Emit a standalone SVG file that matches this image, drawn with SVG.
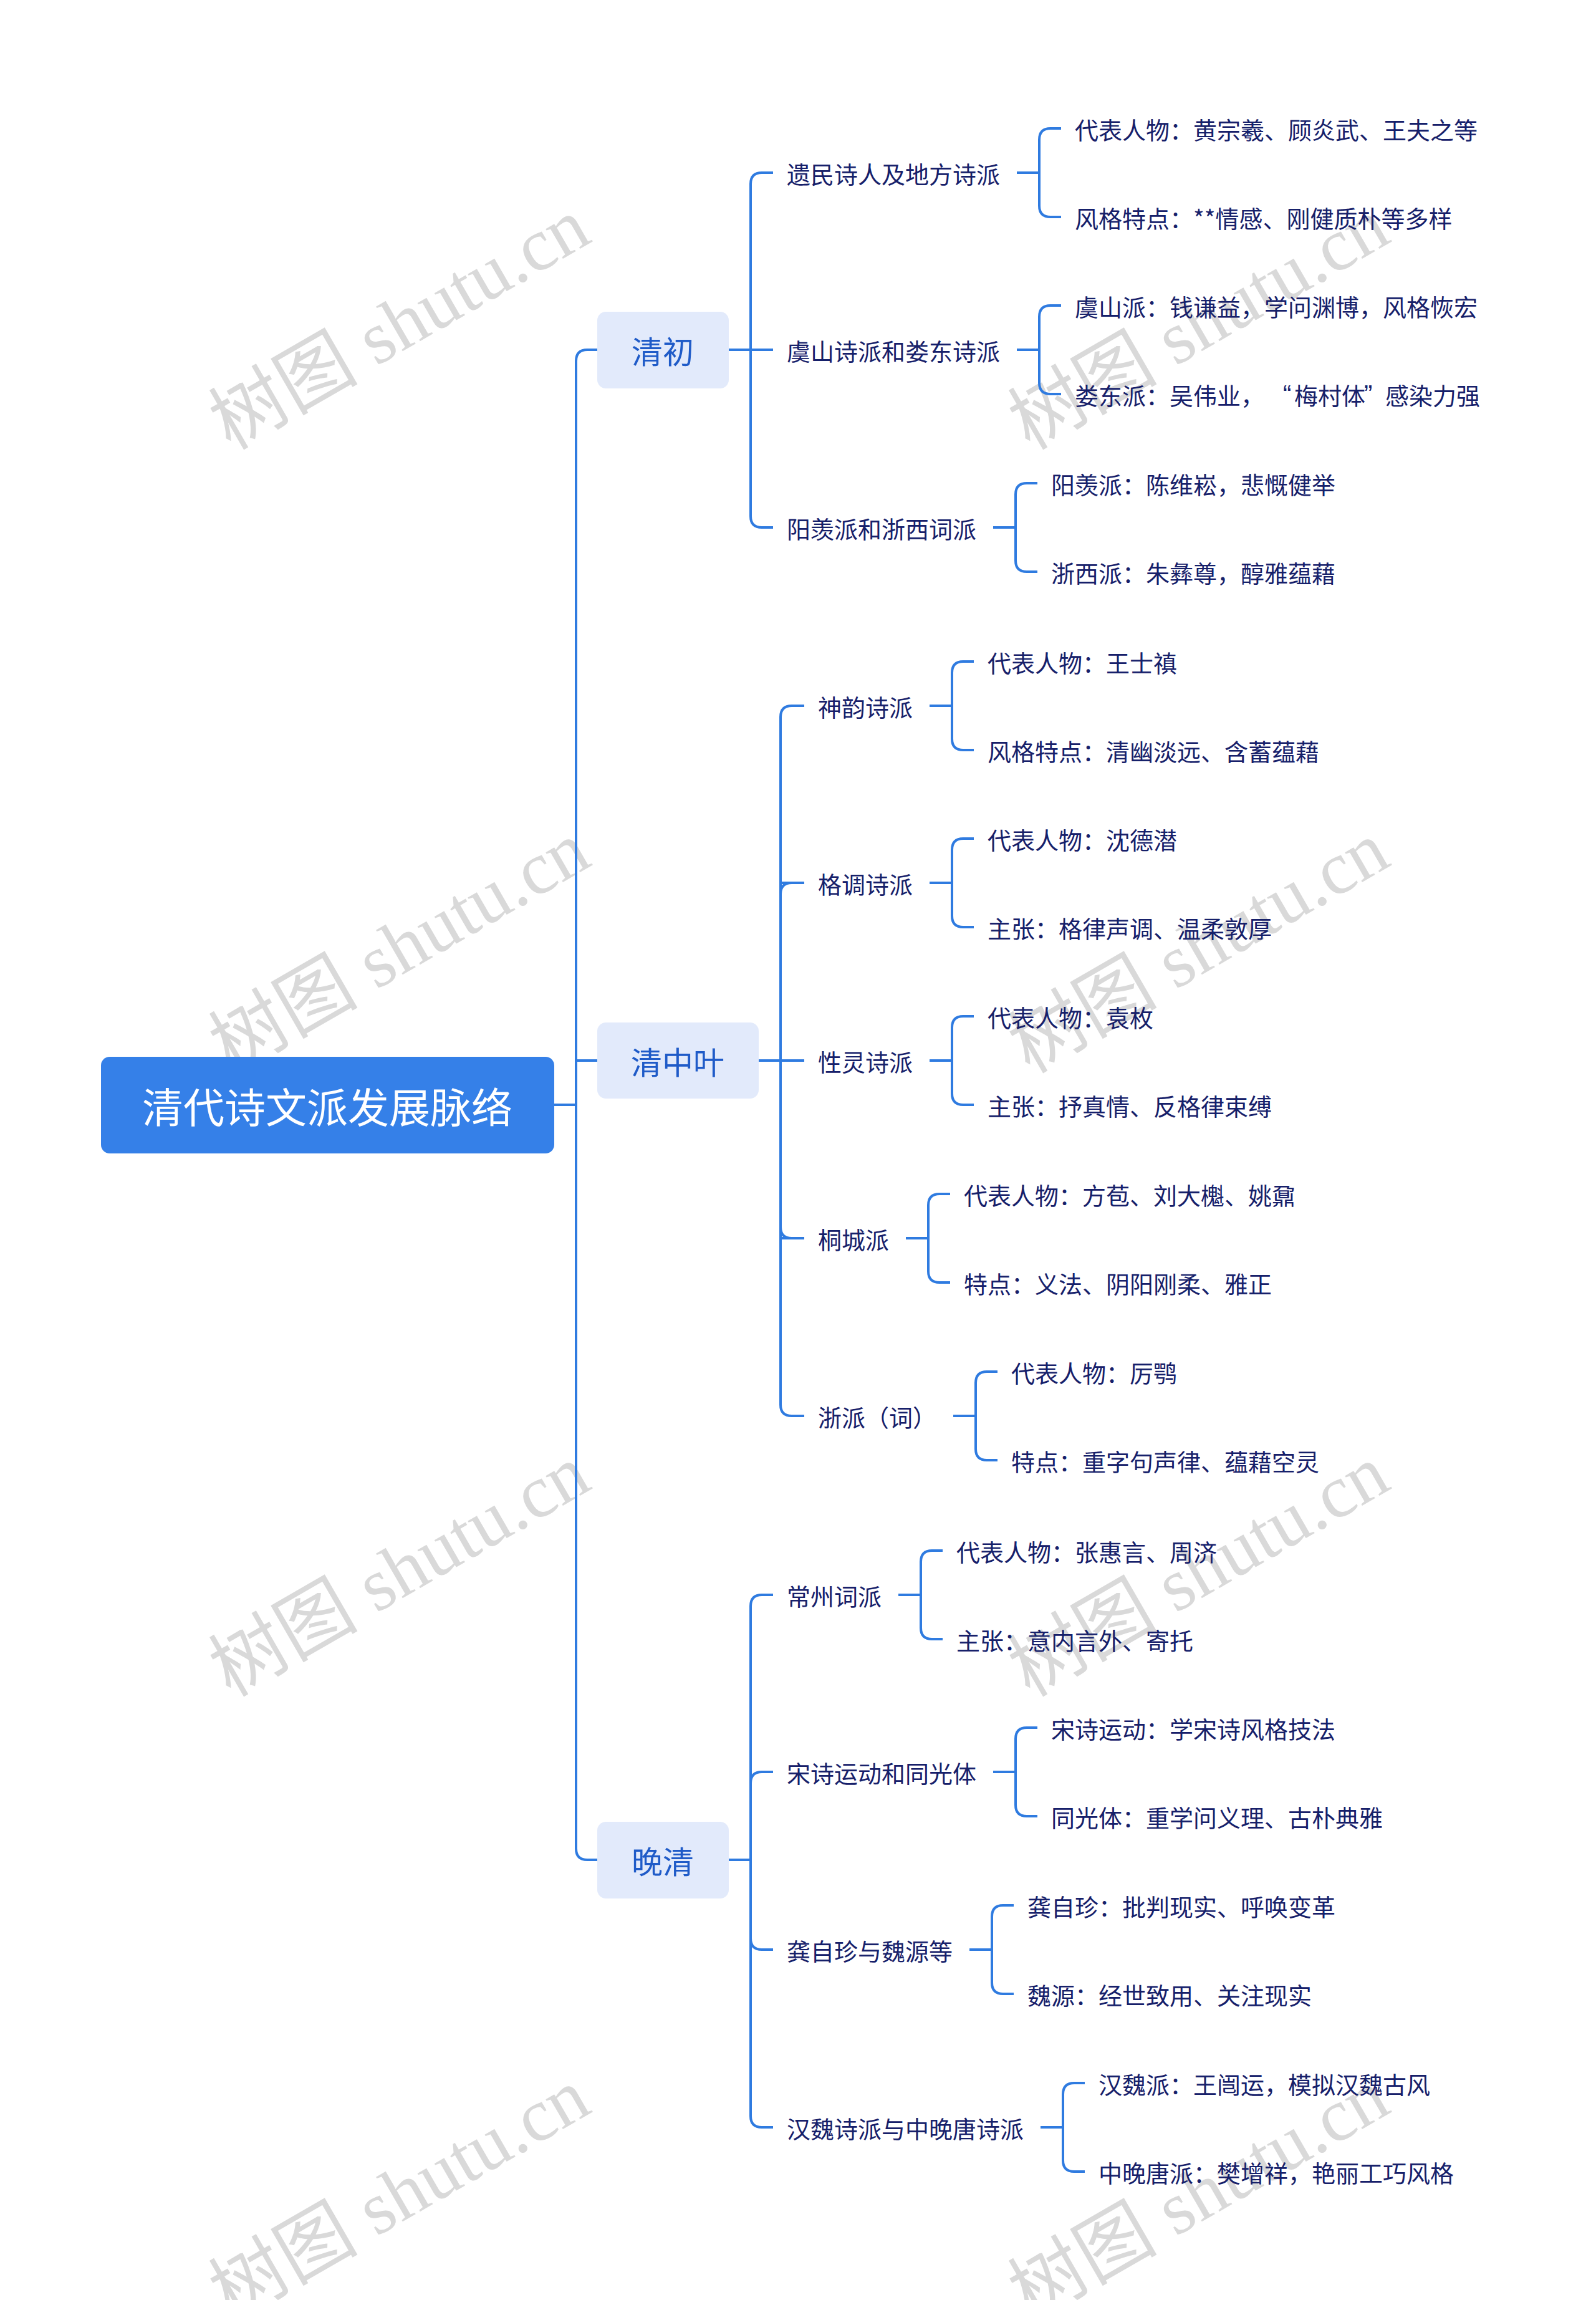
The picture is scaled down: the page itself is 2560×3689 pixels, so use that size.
<svg xmlns="http://www.w3.org/2000/svg" width="2560" height="3689" viewBox="0 0 2560 3689">
<style>
text{font-family:"Noto Sans CJK SC","Noto Sans",sans-serif;dominant-baseline:central}
.root rect{fill:#3580E8}
.root text{fill:#ffffff;font-size:66px;text-anchor:middle}
.l1 rect{fill:#E2EAFB}
.l1 text{fill:#1F5BC8;font-size:50px;text-anchor:middle}
.l2 text,.l3 text{fill:#16206A;font-size:38px}
.q{font-family:"Liberation Sans","Noto Sans CJK SC",sans-serif;font-size:40px}
#connectors path{fill:none;stroke:#2F7BE0;stroke-width:4;stroke-linecap:butt;stroke-linejoin:round}
.wm{font-family:"Liberation Serif","Noto Sans CJK SC",serif;font-size:120px;fill:#d9d9d9;text-anchor:middle;dominant-baseline:auto}
</style>
<rect x="0" y="0" width="2560" height="3689" fill="#ffffff"/>
<g id="watermarks">
<text class="wm" x="641" y="560" transform="rotate(-30 641 520)">树图 shutu.cn</text>
<text class="wm" x="641" y="1560" transform="rotate(-30 641 1520)">树图 shutu.cn</text>
<text class="wm" x="641" y="2560" transform="rotate(-30 641 2520)">树图 shutu.cn</text>
<text class="wm" x="641" y="3560" transform="rotate(-30 641 3520)">树图 shutu.cn</text>
<text class="wm" x="1923" y="560" transform="rotate(-30 1923 520)">树图 shutu.cn</text>
<text class="wm" x="1923" y="1560" transform="rotate(-30 1923 1520)">树图 shutu.cn</text>
<text class="wm" x="1923" y="2560" transform="rotate(-30 1923 2520)">树图 shutu.cn</text>
<text class="wm" x="1923" y="3560" transform="rotate(-30 1923 3520)">树图 shutu.cn</text>
</g>
<g id="connectors">
<path d="M889 1772 H925"/>
<path d="M958 561 H942 Q924 561 924 579 V2965 Q924 2983 942 2983 H958 M924 1701 H958"/>
<path d="M1240 277 H1222 Q1204 277 1204 295 V828 Q1204 846 1222 846 H1240 M1169 561 H1240"/>
<path d="M1290 1132 H1270 Q1252 1132 1252 1150 V2253 Q1252 2271 1270 2271 H1290 M1217 1701 H1290 M1252 1416 H1290 M1252 1986 H1290"/>
<path d="M1290 1416 H1270 Q1252 1416 1252 1434 M1290 1986 H1270 Q1252 1986 1252 1968"/>
<path d="M1240 2558 H1222 Q1204 2558 1204 2576 V3394 Q1204 3412 1222 3412 H1240 M1169 2983 H1204"/>
<path d="M1240 2842 H1222 Q1204 2842 1204 2860 M1240 3127 H1222 Q1204 3127 1204 3109"/>
<path d="M1631 277 H1667 M1702 206 H1685 Q1667 206 1667 224 V330 Q1667 348 1685 348 H1702"/>
<path d="M1631 561 H1667 M1702 490 H1685 Q1667 490 1667 508 V614 Q1667 632 1685 632 H1702"/>
<path d="M1593 846 H1629 M1664 775 H1647 Q1629 775 1629 793 V899 Q1629 917 1647 917 H1664"/>
<path d="M1491 1132 H1527 M1562 1061 H1545 Q1527 1061 1527 1079 V1185 Q1527 1203 1545 1203 H1562"/>
<path d="M1491 1416 H1527 M1562 1345 H1545 Q1527 1345 1527 1363 V1469 Q1527 1487 1545 1487 H1562"/>
<path d="M1491 1701 H1527 M1562 1630 H1545 Q1527 1630 1527 1648 V1754 Q1527 1772 1545 1772 H1562"/>
<path d="M1453 1986 H1489 M1524 1915 H1507 Q1489 1915 1489 1933 V2039 Q1489 2057 1507 2057 H1524"/>
<path d="M1529 2271 H1565 M1600 2200 H1583 Q1565 2200 1565 2218 V2324 Q1565 2342 1583 2342 H1600"/>
<path d="M1441 2558 H1477 M1512 2487 H1495 Q1477 2487 1477 2505 V2611 Q1477 2629 1495 2629 H1512"/>
<path d="M1593 2842 H1629 M1664 2771 H1647 Q1629 2771 1629 2789 V2895 Q1629 2913 1647 2913 H1664"/>
<path d="M1555 3127 H1591 M1626 3056 H1609 Q1591 3056 1591 3074 V3180 Q1591 3198 1609 3198 H1626"/>
<path d="M1669 3412 H1705 M1740 3341 H1723 Q1705 3341 1705 3359 V3465 Q1705 3483 1723 3483 H1740"/>
</g>
<g id="root" class="root"><rect x="162" y="1695" width="727" height="155" rx="14"/><text x="525" y="1772">清代诗文派发展脉络</text></g>
<g id="n-qingchu" class="l1"><rect x="958" y="500" width="211" height="123" rx="14"/><text x="1063" y="561">清初</text></g>
<g id="n-qingzhongye" class="l1"><rect x="958" y="1640" width="259" height="122" rx="14"/><text x="1087" y="1701">清中叶</text></g>
<g id="n-wanqing" class="l1"><rect x="958" y="2922" width="211" height="123" rx="14"/><text x="1063" y="2983">晚清</text></g>
<g id="n-yimin" class="l2"><text x="1262" y="277">遗民诗人及地方诗派</text></g>
<g id="n-yimin-1" class="l3"><text x="1724" y="206">代表人物：黄宗羲、顾炎武、王夫之等</text></g>
<g id="n-yimin-2" class="l3"><text x="1724" y="348">风格特点：**情感、刚健质朴等多样</text></g>
<g id="n-yushan" class="l2"><text x="1262" y="561">虞山诗派和娄东诗派</text></g>
<g id="n-yushan-1" class="l3"><text x="1724" y="490">虞山派：钱谦益，学问渊博，风格恢宏</text></g>
<g id="n-yushan-2" class="l3"><text x="1724" y="632">娄东派：吴伟业，<tspan class="q" x="2058">“</tspan><tspan x="2076">梅村体</tspan><tspan class="q" x="2188">”</tspan><tspan x="2222">感染力强</tspan></text></g>
<g id="n-yangxian" class="l2"><text x="1262" y="846">阳羡派和浙西词派</text></g>
<g id="n-yangxian-1" class="l3"><text x="1686" y="775">阳羡派：陈维崧，悲慨健举</text></g>
<g id="n-yangxian-2" class="l3"><text x="1686" y="917">浙西派：朱彝尊，醇雅蕴藉</text></g>
<g id="n-shenyun" class="l2"><text x="1312" y="1132">神韵诗派</text></g>
<g id="n-shenyun-1" class="l3"><text x="1584" y="1061">代表人物：王士禛</text></g>
<g id="n-shenyun-2" class="l3"><text x="1584" y="1203">风格特点：清幽淡远、含蓄蕴藉</text></g>
<g id="n-gediao" class="l2"><text x="1312" y="1416">格调诗派</text></g>
<g id="n-gediao-1" class="l3"><text x="1584" y="1345">代表人物：沈德潜</text></g>
<g id="n-gediao-2" class="l3"><text x="1584" y="1487">主张：格律声调、温柔敦厚</text></g>
<g id="n-xingling" class="l2"><text x="1312" y="1701">性灵诗派</text></g>
<g id="n-xingling-1" class="l3"><text x="1584" y="1630">代表人物：袁枚</text></g>
<g id="n-xingling-2" class="l3"><text x="1584" y="1772">主张：抒真情、反格律束缚</text></g>
<g id="n-tongcheng" class="l2"><text x="1312" y="1986">桐城派</text></g>
<g id="n-tongcheng-1" class="l3"><text x="1546" y="1915">代表人物：方苞、刘大櫆、姚鼐</text></g>
<g id="n-tongcheng-2" class="l3"><text x="1546" y="2057">特点：义法、阴阳刚柔、雅正</text></g>
<g id="n-zhepai" class="l2"><text x="1312" y="2271">浙派（词）</text></g>
<g id="n-zhepai-1" class="l3"><text x="1622" y="2200">代表人物：厉鹗</text></g>
<g id="n-zhepai-2" class="l3"><text x="1622" y="2342">特点：重字句声律、蕴藉空灵</text></g>
<g id="n-changzhou" class="l2"><text x="1262" y="2558">常州词派</text></g>
<g id="n-changzhou-1" class="l3"><text x="1534" y="2487">代表人物：张惠言、周济</text></g>
<g id="n-changzhou-2" class="l3"><text x="1534" y="2629">主张：意内言外、寄托</text></g>
<g id="n-songshi" class="l2"><text x="1262" y="2842">宋诗运动和同光体</text></g>
<g id="n-songshi-1" class="l3"><text x="1686" y="2771">宋诗运动：学宋诗风格技法</text></g>
<g id="n-songshi-2" class="l3"><text x="1686" y="2913">同光体：重学问义理、古朴典雅</text></g>
<g id="n-gong" class="l2"><text x="1262" y="3127">龚自珍与魏源等</text></g>
<g id="n-gong-1" class="l3"><text x="1648" y="3056">龚自珍：批判现实、呼唤变革</text></g>
<g id="n-gong-2" class="l3"><text x="1648" y="3198">魏源：经世致用、关注现实</text></g>
<g id="n-hanwei" class="l2"><text x="1262" y="3412">汉魏诗派与中晚唐诗派</text></g>
<g id="n-hanwei-1" class="l3"><text x="1762" y="3341">汉魏派：王闿运，模拟汉魏古风</text></g>
<g id="n-hanwei-2" class="l3"><text x="1762" y="3483">中晚唐派：樊增祥，艳丽工巧风格</text></g>
</svg>
